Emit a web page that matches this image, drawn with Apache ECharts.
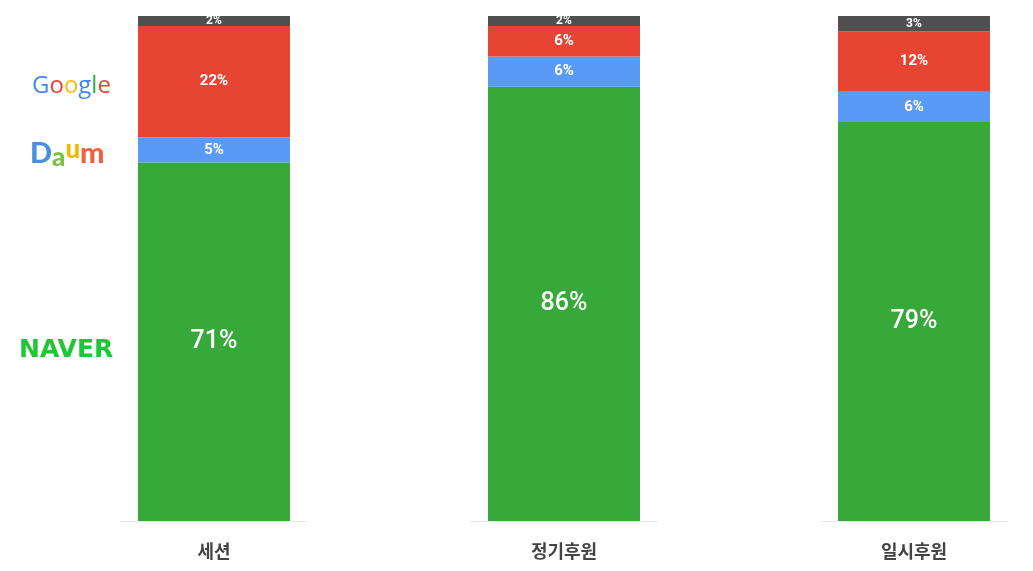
<!DOCTYPE html>
<html>
<head>
<meta charset="utf-8">
<script src="https://cdn.jsdelivr.net/npm/echarts@6/dist/echarts.min.js"></script>
<style>html,body{margin:0;padding:0;background:#fff}#c{width:1033px;height:571px}</style>
</head>
<body>
<div id="c"></div>
<script>
const categories = ['세션', '정기후원', '일시후원'];
const naverValues = [71, 86, 79];
const daumValues = [5, 6, 6];
const googleValues = [22, 6, 12];
const otherValues = [2, 2, 3];

const chart = echarts.init(document.getElementById('c'));
const lbl = (size, weight) => ({
  show: true, position: 'inside', color: '#fff', fontFamily: 'Roboto',
  fontSize: size, fontWeight: weight, formatter: p => p.value + '%'
});
chart.setOption({
  animation: false,
  grid: { left: 214, right: 119, top: 16, bottom: 50 },
  xAxis: {
    type: 'category', data: categories, boundaryGap: false,
    axisLine: { show: false }, axisTick: { show: false },
    axisLabel: { margin: 21, fontSize: 18, fontWeight: 'bold', color: '#444', fontFamily: 'Noto Sans CJK KR' }
  },
  yAxis: { type: 'value', min: 0, max: 100, show: false },
  graphic: [
    { type: 'text', left: 32, top: 74, style: {
      rich: {
        b: { fill: '#4285F4', fontSize: 24, fontFamily: 'Open Sans', fontWeight: 500 },
        r: { fill: '#EA4335', fontSize: 24, fontFamily: 'Open Sans', fontWeight: 500 },
        y: { fill: '#FBBC05', fontSize: 24, fontFamily: 'Open Sans', fontWeight: 500 },
        g: { fill: '#34A853', fontSize: 24, fontFamily: 'Open Sans', fontWeight: 500 }
      },
      text: '{b|G}{r|o}{y|o}{b|g}{g|l}{r|e}'
    }},
    { type: 'text', left: 30, top: 137, style: {
      rich: {
        d: { fill: '#4A90E2', fontSize: 29, fontFamily: 'Lato', fontWeight: 900 },
        a: { fill: '#7CC242', fontSize: 26, fontFamily: 'Lato', fontWeight: 900, padding: [8, 0, 0, 0] },
        u: { fill: '#F5B800', fontSize: 26, fontFamily: 'Lato', fontWeight: 900, padding: [0, 0, 8, 0] },
        m: { fill: '#F0623C', fontSize: 29, fontFamily: 'Lato', fontWeight: 900 }
      },
      text: '{d|D}{a|a}{u|u}{m|m}'
    }},
    { type: 'text', left: 19, top: 338, style: {
      text: 'NAVER', fill: '#1EC735', fontSize: 25, fontWeight: 'bold', fontFamily: 'DejaVu Sans'
    }}
  ],
  series: [
    { name: 'NAVER', type: 'bar', stack: 's', barWidth: 152, data: naverValues,
      itemStyle: { color: '#37A93B' }, label: lbl(25, 500) },
    { name: 'Daum', type: 'bar', stack: 's', data: daumValues,
      itemStyle: { color: '#5A9AF7' }, label: lbl(15, 'bold') },
    { name: 'Google', type: 'bar', stack: 's', data: googleValues,
      itemStyle: { color: '#E74434' }, label: lbl(15, 'bold') },
    { name: '기타', type: 'bar', stack: 's', data: otherValues,
      itemStyle: { color: '#505050' }, label: lbl(12, 'bold') },
    { type: 'custom', data: categories.map((c, i) => [i, 0]), z: 1,
      renderItem: (params, api) => {
        const p = api.coord([api.value(0), 0]);
        return { type: 'line', shape: { x1: p[0] - 94, y1: p[1] + 0.5, x2: p[0] + 94, y2: p[1] + 0.5 },
          style: { stroke: '#e8e8e8', lineWidth: 1 } };
      }
    }
  ]
});
</script>
</body>
</html>
